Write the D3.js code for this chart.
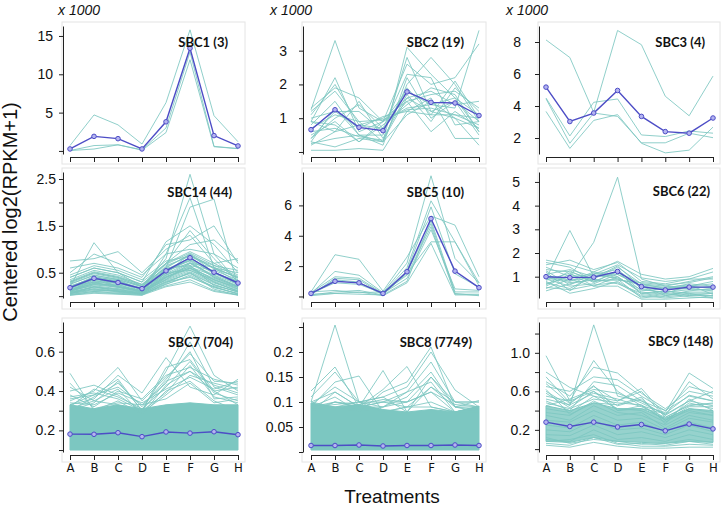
<!DOCTYPE html>
<html><head><meta charset="utf-8">
<script src="https://cdn.jsdelivr.net/npm/d3@7"></script>
<style>body{margin:0;background:#fff}</style>
</head><body><svg id="c" width="722" height="511" xmlns="http://www.w3.org/2000/svg"></svg>
<script>
// ---------------- DATA ----------------
const categories = ["A","B","C","D","E","F","G","H"];

// SBC1 (x1000)
const sbc1Lines = [
  [0.7, 4.7, 3.4, 0.9, 6.3, 15.8, 4.6, 1.2],
  [0.05, 0.7, 0.8, 0.15, 3.0, 12.9, 0.6, 0.3],
  [0.05, 0.25, 0.8, 0.1, 2.4, 11.9, 0.55, 0.3]
];
const sbc1Mean = [0.26, 1.9, 1.6, 0.26, 3.8, 13.4, 2.0, 0.65];

// SBC2 (x1000)
const sbc2Lines = [
  [1.25, 3.3, 1.3, 0.9, 1.6, 1.2, 1.5, 0.9],
  [0.05, 0.05, 0.1, 0.05, 1.2, 1.1, 1.1, 1.0],
  [0.3, 1.3, 0.5, 0.3, 3.1, 2.3, 1.6, 0.6],
  [0.9, 2.2, 0.6, 0.9, 1.8, 1.4, 1.3, 3.6],
  [1.3, 1.9, 1.6, 0.9, 2.6, 2.0, 2.2, 3.2],
  [0.7, 1.1, 0.9, 0.3, 2.0, 2.8, 2.0, 0.9],
  [1.1, 2.0, 0.8, 0.7, 1.5, 0.6, 1.2, 0.7],
  [0.4, 1.2, 0.7, 1.05, 1.2, 1.6, 0.4, 0.4],
  [0.2, 0.6, 1.5, 0.4, 1.7, 0.9, 1.9, 1.2],
  [0.8, 1.5, 0.5, 0.5, 2.8, 1.2, 1.0, 0.7],
  [0.5, 0.9, 0.3, 0.8, 1.4, 1.9, 1.7, 0.6],
  [1.0, 1.2, 1.2, 0.6, 1.9, 1.1, 2.1, 1.0],
  [0.3, 0.15, 0.4, 0.3, 1.1, 1.5, 1.0, 0.2],
  [0.6, 0.7, 0.45, 0.35, 1.6, 1.8, 1.4, 1.5],
  [1.2, 1.8, 0.9, 0.95, 1.25, 1.3, 1.1, 0.8],
  [0.25, 0.4, 0.5, 0.2, 2.2, 1.0, 1.5, 0.5],
  [0.9, 0.6, 0.8, 1.0, 1.5, 1.7, 1.8, 1.3],
  [0.4, 1.0, 1.4, 0.7, 2.3, 2.2, 0.8, 0.9],
  [0.9, 0.8, 0.3, 0.9, 1.3, 1.4, 1.6, 1.1]
];
const sbc2Mean = [0.66, 1.25, 0.73, 0.63, 1.78, 1.47, 1.45, 1.08];

// SBC3 (x1000)
const sbc3Lines = [
  [8.13, 7.03, 3.6, 8.72, 7.83, 4.61, 3.39, 5.87],
  [4.5, 2.13, 4.23, 4.44, 2.19, 2.09, 2.44, 2.3],
  [4.45, 1.67, 3.56, 3.35, 1.7, 1.7, 2.3, 2.02],
  [3.66, 1.35, 3.1, 3.46, 1.67, 1.07, 1.24, 2.68]
];
const sbc3Mean = [5.18, 3.03, 3.56, 4.97, 3.35, 2.4, 2.3, 3.25];

// SBC14
const sbc14Lines = [
  [0.3, 0.5, 0.4, 0.2, 0.8, 2.6, 0.9, 0.3],
  [0.2, 0.3, 0.3, 0.1, 0.9, 2.1, 0.6, 0.4],
  [0.1, 0.4, 0.2, 0.1, 0.6, 1.9, 2.07, 0.2],
  [0.4, 0.6, 0.5, 0.3, 1.16, 1.5, 1.1, 0.5],
  [0.2, 1.14, 0.5, 0.2, 0.7, 1.4, 0.8, 0.3],
  [0.75, 0.8, 0.95, 0.5, 1.0, 1.3, 0.7, 0.8],
  [0.6, 0.7, 0.6, 0.4, 1.1, 1.2, 1.5, 0.7],
  [0.5, 0.9, 0.7, 0.45, 0.9, 1.0, 0.9, 0.6],
  [0.4, 0.6, 0.5, 0.3, 0.7, 1.1, 1.2, 0.75],
  [0.3, 0.5, 0.4, 0.25, 0.6, 0.9, 0.6, 0.5],
  [0.2, 0.4, 0.3, 0.15, 0.5, 0.8, 0.5, 0.3],
  [0.15, 0.3, 0.25, 0.1, 0.45, 0.7, 0.45, 0.25],
  [0.1, 0.35, 0.2, 0.12, 0.55, 0.75, 0.4, 0.2],
  [0.25, 0.45, 0.35, 0.2, 0.6, 0.65, 0.55, 0.35],
  [0.05, 0.2, 0.15, 0.05, 0.4, 0.6, 0.3, 0.1],
  [0.1, 0.25, 0.2, 0.08, 0.5, 0.55, 0.35, 0.15],
  [0.12, 0.3, 0.18, 0.1, 0.35, 0.7, 0.4, 0.2],
  [0.2, 0.35, 0.3, 0.15, 0.65, 0.85, 0.6, 0.3],
  [0.08, 0.15, 0.1, 0.05, 0.3, 0.5, 0.25, 0.08],
  [0.03, 0.1, 0.08, 0.03, 0.25, 0.45, 0.2, 0.05],
  [0.15, 0.4, 0.35, 0.12, 0.5, 0.9, 0.5, 0.25],
  [0.1, 0.28, 0.22, 0.1, 0.42, 0.6, 0.38, 0.18],
  [0.06, 0.12, 0.12, 0.05, 0.3, 0.4, 0.2, 0.04],
  [0.02, 0.08, 0.05, 0.02, 0.28, 0.5, 0.15, 0.02],
  [0.18, 0.32, 0.28, 0.14, 0.48, 0.72, 0.42, 0.22],
  [0.35, 0.55, 0.45, 0.25, 0.7, 0.95, 0.7, 0.45],
  [0.12, 0.22, 0.16, 0.08, 0.38, 0.58, 0.32, 0.14],
  [0.22, 0.38, 0.26, 0.16, 0.52, 0.78, 0.48, 0.28],
  [0.04, 0.1, 0.06, 0.04, 0.22, 0.35, 0.12, 0.03],
  [0.09, 0.18, 0.14, 0.07, 0.34, 0.52, 0.28, 0.12],
  [0.28, 0.48, 0.38, 0.22, 0.62, 0.88, 0.58, 0.4],
  [0.07, 0.2, 0.1, 0.06, 0.44, 0.66, 0.22, 0.1],
  [0.14, 0.26, 0.24, 0.1, 0.46, 0.62, 0.44, 0.2],
  [0.05, 0.14, 0.09, 0.04, 0.26, 0.42, 0.18, 0.06],
  [0.16, 0.36, 0.33, 0.13, 0.56, 0.82, 0.52, 0.26],
  [0.11, 0.24, 0.19, 0.09, 0.4, 0.6, 0.36, 0.16],
  [0.45, 0.65, 0.55, 0.35, 0.75, 0.85, 0.65, 0.55],
  [0.02, 0.06, 0.04, 0.02, 0.2, 0.3, 0.1, 0.02],
  [0.19, 0.42, 0.32, 0.17, 0.58, 0.76, 0.5, 0.32],
  [0.13, 0.27, 0.21, 0.11, 0.41, 0.64, 0.34, 0.19],
  [0.26, 0.44, 0.36, 0.2, 0.55, 0.7, 0.62, 0.38],
  [0.06, 0.16, 0.11, 0.05, 0.32, 0.48, 0.24, 0.09],
  [0.32, 0.52, 0.42, 0.24, 0.68, 0.92, 0.66, 0.42],
  [0.09, 0.2, 0.13, 0.07, 0.36, 0.55, 0.3, 0.11]
];
const sbc14Mean = [0.18, 0.38, 0.29, 0.16, 0.54, 0.82, 0.51, 0.28];

// SBC5
const sbc5Lines = [
  [0.3, 2.75, 2.45, 0.35, 2.6, 5.3, 4.7, 1.3],
  [0.2, 1.65, 1.4, 0.25, 2.2, 7.95, 2.5, 0.9],
  [0.25, 1.3, 1.2, 0.2, 1.9, 6.3, 3.6, 0.9],
  [0.1, 1.2, 1.1, 0.15, 1.5, 3.6, 3.6, 0.7],
  [0.15, 1.1, 0.95, 0.1, 1.7, 5.9, 1.5, 0.6],
  [0.2, 0.9, 0.8, 0.2, 1.2, 4.4, 0.5, 0.4],
  [0.1, 0.3, 0.4, 0.1, 1.0, 5.0, 0.3, 0.3],
  [0.05, 0.2, 0.3, 0.05, 0.9, 3.5, 0.1, 0.1],
  [0.15, 0.2, 0.15, 0.1, 1.6, 4.8, 0.2, 0.05],
  [0.3, 0.4, 0.25, 0.3, 1.4, 4.6, 0.15, 0.15]
];
const sbc5Mean = [0.2, 1.0, 0.9, 0.2, 1.63, 5.13, 1.67, 0.58];

// SBC6
const sbc6Lines = [
  [0.9, 2.95, 1.0, 1.1, 0.6, 0.5, 0.6, 0.5],
  [0.7, 1.0, 2.45, 5.2, 0.9, 0.6, 0.5, 0.4],
  [1.7, 1.5, 1.2, 1.65, 1.1, 0.9, 1.0, 1.35],
  [1.5, 1.7, 1.3, 1.6, 0.8, 0.7, 0.9, 1.2],
  [1.3, 1.2, 0.9, 1.4, 0.7, 0.6, 0.8, 1.0],
  [1.2, 0.4, 1.1, 1.3, 0.5, 0.3, 0.6, 0.8],
  [1.1, 1.3, 1.0, 1.2, 0.4, 0.5, 0.7, 0.6],
  [1.0, 0.8, 1.2, 1.0, 0.3, 0.4, 0.3, 0.3],
  [0.9, 0.6, 0.7, 1.1, 0.6, 0.2, 0.4, 0.5],
  [0.8, 0.3, 0.5, 0.8, 0.2, 0.1, 0.2, 0.2],
  [0.6, 1.1, 0.8, 0.9, 0.1, 0.2, 0.3, 0.1],
  [0.5, 0.9, 0.6, 0.6, 0.05, 0.05, 0.1, 0.15],
  [1.4, 1.0, 1.1, 1.5, 0.95, 0.8, 0.9, 0.9],
  [0.4, 0.7, 0.9, 0.7, 0.3, 0.15, 0.25, 0.2],
  [1.6, 1.4, 0.8, 1.2, 0.7, 0.5, 0.6, 0.7],
  [0.75, 0.5, 1.05, 0.95, 0.45, 0.35, 0.45, 0.45],
  [1.05, 0.85, 0.95, 1.45, 0.55, 0.45, 0.5, 0.6],
  [0.85, 1.15, 0.6, 1.0, 0.35, 0.25, 0.35, 0.35],
  [1.25, 0.65, 1.15, 0.9, 0.65, 0.55, 0.65, 0.25],
  [0.65, 1.25, 0.75, 1.25, 0.25, 0.4, 0.2, 0.3],
  [0.95, 0.75, 0.85, 0.85, 0.75, 0.65, 0.75, 0.95],
  [0.55, 0.45, 0.65, 0.75, 0.15, 0.3, 0.15, 0.1]
];
const sbc6Mean = [1.0, 0.96, 0.98, 1.22, 0.58, 0.44, 0.56, 0.56];

// SBC7: dense envelope + outlying profiles
const sbc7BandLow  = [0.1, 0.1, 0.1, 0.1, 0.1, 0.1, 0.1, 0.1];
const sbc7BandHigh = [0.33, 0.31, 0.33, 0.31, 0.33, 0.34, 0.33, 0.33];
const sbc7Lines = [
  [0.49, 0.3, 0.35, 0.28, 0.4, 0.45, 0.35, 0.3],
  [0.4, 0.43, 0.38, 0.3, 0.45, 0.5, 0.4, 0.42],
  [0.35, 0.4, 0.52, 0.35, 0.47, 0.59, 0.45, 0.44],
  [0.33, 0.36, 0.48, 0.39, 0.57, 0.42, 0.38, 0.46],
  [0.3, 0.34, 0.45, 0.3, 0.5, 0.73, 0.48, 0.4],
  [0.36, 0.38, 0.42, 0.33, 0.44, 0.65, 0.42, 0.38],
  [0.38, 0.32, 0.4, 0.36, 0.48, 0.52, 0.46, 0.43],
  [0.32, 0.41, 0.37, 0.31, 0.42, 0.55, 0.39, 0.35],
  [0.42, 0.35, 0.33, 0.29, 0.38, 0.48, 0.44, 0.41],
  [0.3, 0.37, 0.44, 0.32, 0.46, 0.6, 0.36, 0.37],
  [0.34, 0.33, 0.39, 0.34, 0.41, 0.47, 0.41, 0.45],
  [0.37, 0.39, 0.36, 0.3, 0.39, 0.53, 0.37, 0.34],
  [0.31, 0.35, 0.41, 0.28, 0.43, 0.5, 0.43, 0.39],
  [0.44, 0.31, 0.34, 0.33, 0.36, 0.44, 0.34, 0.36],
  [0.33, 0.38, 0.46, 0.3, 0.52, 0.56, 0.4, 0.33]
];
const sbc7Mean = [0.181, 0.18, 0.188, 0.168, 0.192, 0.186, 0.193, 0.178];

// SBC8: dense envelope + outlying profiles
const sbc8BandLow  = [0.004, 0.004, 0.004, 0.004, 0.004, 0.004, 0.004, 0.004];
const sbc8BandHigh = [0.098, 0.09, 0.095, 0.085, 0.08, 0.085, 0.08, 0.092];
const sbc8Lines = [
  [0.1, 0.254, 0.1, 0.08, 0.09, 0.09, 0.08, 0.09],
  [0.122, 0.17, 0.09, 0.09, 0.1, 0.12, 0.08, 0.09],
  [0.11, 0.16, 0.1, 0.11, 0.08, 0.15, 0.09, 0.08],
  [0.09, 0.14, 0.152, 0.08, 0.09, 0.1, 0.08, 0.09],
  [0.08, 0.12, 0.09, 0.163, 0.08, 0.13, 0.1, 0.09],
  [0.09, 0.1, 0.09, 0.125, 0.171, 0.09, 0.08, 0.08],
  [0.1, 0.09, 0.08, 0.12, 0.14, 0.21, 0.09, 0.09],
  [0.09, 0.09, 0.1, 0.11, 0.13, 0.2, 0.124, 0.09],
  [0.08, 0.1, 0.09, 0.1, 0.12, 0.18, 0.1, 0.1],
  [0.09, 0.095, 0.1, 0.09, 0.11, 0.16, 0.09, 0.103],
  [0.1, 0.12, 0.09, 0.1, 0.1, 0.15, 0.1, 0.1],
  [0.09, 0.11, 0.08, 0.09, 0.12, 0.14, 0.08, 0.09],
  [0.095, 0.13, 0.1, 0.1, 0.09, 0.13, 0.09, 0.085],
  [0.085, 0.1, 0.095, 0.105, 0.1, 0.12, 0.095, 0.09]
];
const sbc8Mean = [0.013, 0.013, 0.014, 0.012, 0.013, 0.013, 0.014, 0.013];

// SBC9: envelope + profiles
const sbc9BandLow  = [0.08, 0.07, 0.12, 0.08, 0.07, 0.06, 0.08, 0.07];
const sbc9BandHigh = [0.45, 0.4, 0.48, 0.42, 0.42, 0.32, 0.42, 0.4];
const sbc9Lines = [
  [0.97, 0.5, 0.6, 0.4, 0.45, 0.3, 0.4, 0.35],
  [0.8, 0.64, 0.55, 0.5, 0.63, 0.35, 0.5, 0.45],
  [0.6, 0.45, 1.29, 0.55, 0.5, 0.4, 0.55, 0.5],
  [0.55, 0.5, 0.92, 0.6, 0.45, 0.38, 0.79, 0.63],
  [0.7, 0.55, 0.85, 0.79, 0.58, 0.42, 0.6, 0.55],
  [0.65, 0.6, 0.75, 0.72, 0.55, 0.4, 0.65, 0.58],
  [0.5, 0.4, 0.7, 0.66, 0.5, 0.35, 0.7, 0.52],
  [0.75, 0.48, 0.65, 0.5, 0.6, 0.33, 0.45, 0.48],
  [0.45, 0.52, 0.62, 0.58, 0.48, 0.36, 0.5, 0.6],
  [0.58, 0.43, 0.6, 0.45, 0.52, 0.3, 0.48, 0.42],
  [0.42, 0.38, 0.55, 0.42, 0.4, 0.28, 0.42, 0.38],
  [0.38, 0.35, 0.5, 0.38, 0.35, 0.25, 0.38, 0.35],
  [0.35, 0.3, 0.45, 0.35, 0.38, 0.22, 0.35, 0.3],
  [0.3, 0.28, 0.4, 0.3, 0.32, 0.2, 0.32, 0.28],
  [0.25, 0.22, 0.35, 0.25, 0.28, 0.18, 0.28, 0.22],
  [0.2, 0.18, 0.3, 0.2, 0.22, 0.15, 0.25, 0.18],
  [0.15, 0.14, 0.25, 0.15, 0.18, 0.12, 0.2, 0.15],
  [0.1, 0.08, 0.2, 0.1, 0.12, 0.08, 0.15, 0.1],
  [0.06, 0.04, 0.12, 0.05, 0.06, 0.04, 0.08, 0.05],
  [0.04, 0.02, 0.07, 0.03, 0.01, 0.01, 0.02, 0.02],
  [0.08, 0.1, 0.15, 0.06, 0.03, 0.03, 0.05, 0.04],
  [0.12, 0.06, 0.1, 0.08, 0.05, 0.06, 0.1, 0.07],
  [0.52, 0.46, 0.58, 0.52, 0.44, 0.33, 0.46, 0.47],
  [0.48, 0.42, 0.52, 0.48, 0.46, 0.3, 0.44, 0.44],
  [0.62, 0.36, 0.48, 0.46, 0.54, 0.26, 0.52, 0.4],
  [0.68, 0.47, 0.66, 0.4, 0.42, 0.37, 0.56, 0.5]
];
const sbc9Mean = [0.28, 0.235, 0.28, 0.23, 0.255, 0.19, 0.26, 0.21];

const titles = ["SBC1 (3)", "SBC2 (19)", "SBC3 (4)", "SBC14 (44)", "SBC5 (10)", "SBC6 (22)", "SBC7 (704)", "SBC8 (7749)", "SBC9 (148)"];
const yDomains = [[-0.4, 16.3], [-0.06, 3.73], [1.0, 9.0], [-0.04, 2.65], [-0.1, 8.2], [0.1, 5.42], [0.09, 0.751], [0, 0.26], [-0.03, 1.32]];
const yTicks = [[0, 5, 10, 15], [0, 1, 2, 3], [2, 4, 6, 8], [0, 0.5, 1, 1.5, 2, 2.5], [0, 2, 4, 6], [1, 2, 3, 4, 5],
  [0.1, 0.2, 0.3, 0.4, 0.5, 0.6, 0.7], [0, 0.05, 0.1, 0.15, 0.2, 0.25], [0, 0.2, 0.4, 0.6, 0.8, 1.0, 1.2]];
const yTickLabels = [["", "5", "10", "15"], ["", "1", "2", "3"], ["2", "4", "6", "8"], ["", "0.5", "", "1.5", "", "2.5"], ["", "2", "4", "6"], ["1", "2", "3", "4", "5"],
  ["", "0.2", "", "0.4", "", "0.6", ""], ["", "0.05", "0.1", "0.15", "0.2", ""], ["", "0.2", "", "0.6", "", "1.0", ""]];
const scaleNotes = ["x 1000", "x 1000", "x 1000"];
const yAxisTitle = "Centered log2(RPKM+1)";
const xAxisTitle = "Treatments";

// ---------------- LAYOUT ----------------
const cols = [{axis: 63, a: 70, h: 238}, {axis: 303, a: 311, h: 479}, {axis: 539, a: 546, h: 713}];
const rows = [{top: 26, bottom: 154, xaxis: 157}, {top: 172, bottom: 298, xaxis: 302}, {top: 322, bottom: 452, xaxis: 455}];
const labelGap = [10, 16, 18, 7, 11, 19, 8, 10, 9];
const titleRight = [228, 464, 705, 232, 464, 710, 233, 472, 713];
const titleBase = [47, 47, 47, 197, 197, 196, 347, 347, 346];
const noteX = [58, 270, 506];

const panels = [
  {lines: sbc1Lines, mean: sbc1Mean},
  {lines: sbc2Lines, mean: sbc2Mean},
  {lines: sbc3Lines, mean: sbc3Mean},
  {lines: sbc14Lines, mean: sbc14Mean},
  {lines: sbc5Lines, mean: sbc5Mean},
  {lines: sbc6Lines, mean: sbc6Mean},
  {lines: sbc7Lines, mean: sbc7Mean, low: sbc7BandLow, high: sbc7BandHigh, bandOpacity: 1},
  {lines: sbc8Lines, mean: sbc8Mean, low: sbc8BandLow, high: sbc8BandHigh, bandOpacity: 1},
  {lines: sbc9Lines, mean: sbc9Mean, low: sbc9BandLow, high: sbc9BandHigh, bandOpacity: 0.8}
];

const TEAL = "#7cc7c1";
const BLUE = "#4d4dc6";
const svg = d3.select("#c");
svg.append("rect").attr("width", 722).attr("height", 511).attr("fill", "#fff");

panels.forEach((p, i) => {
  const c = cols[i % 3], r = rows[Math.floor(i / 3)];
  const x = d3.scalePoint().domain(categories).range([c.a, c.h]);
  const y = d3.scaleLinear().domain(yDomains[i]).range([r.bottom, r.top]);
  const g = svg.append("g");

  // faint panel frame
  g.append("rect")
    .attr("x", c.axis - 1).attr("y", r.top - 4)
    .attr("width", c.h + 7 - (c.axis - 1)).attr("height", r.xaxis + 7 - (r.top - 4))
    .attr("fill", "none").attr("stroke", "#e4e4e4").attr("stroke-width", 1);

  const line = d3.line().x((d, k) => x(categories[k])).y(d => y(d));

  if (p.low) {
    const area = d3.area()
      .x((d, k) => x(categories[k]))
      .y0((d, k) => y(p.low[k]))
      .y1(d => y(d));
    g.append("path").datum(p.high).attr("d", area)
      .attr("fill", TEAL).attr("fill-opacity", p.bandOpacity).attr("stroke", TEAL).attr("stroke-width", 1);
  }

  g.append("g").selectAll("path").data(p.lines).join("path")
    .attr("d", line).attr("fill", "none")
    .attr("stroke", TEAL).attr("stroke-width", 1).attr("stroke-opacity", 0.85);

  g.append("path").datum(p.mean).attr("d", line)
    .attr("fill", "none").attr("stroke", BLUE).attr("stroke-width", 1.4);
  g.append("g").selectAll("circle").data(p.mean).join("circle")
    .attr("cx", (d, k) => x(categories[k])).attr("cy", d => y(d)).attr("r", 2.3)
    .attr("fill", "#b4b4f0").attr("stroke", BLUE).attr("stroke-width", 1);

  // y axis
  const labs = yTickLabels[i];
  const yAx = d3.axisLeft(y).tickValues(yTicks[i]).tickSize(4).tickSizeOuter(0)
    .tickPadding(labelGap[i] - 4)
    .tickFormat((d, k) => labs[k]);
  const ga = g.append("g").attr("transform", `translate(${c.axis},0)`).call(yAx);
  ga.selectAll("text").attr("font-family", "Liberation Sans, Arial, sans-serif").attr("font-size", 14).attr("fill", "#111");
  ga.selectAll("line,path").attr("stroke", "#222");

  // x axis
  const xAx = d3.axisBottom(x).tickSize(5).tickSizeOuter(0).tickPadding(3)
    .tickFormat(i >= 6 ? (d => d) : (() => ""));
  const gx = g.append("g").attr("transform", `translate(0,${r.xaxis})`).call(xAx);
  gx.selectAll("line,path").attr("stroke", "#222");
  gx.selectAll("text").attr("font-family", "Liberation Sans Narrow, DejaVu Sans Condensed, sans-serif")
    .attr("font-size", 13).attr("fill", "#111");

  // title
  g.append("text").attr("x", titleRight[i]).attr("y", titleBase[i])
    .attr("text-anchor", "end").attr("font-family", "Lato, Open Sans, sans-serif")
    .attr("font-weight", 700).attr("font-size", 13).attr("fill", "#111").text(titles[i]);
});

// scale notes (x 1000) over top row
scaleNotes.forEach((t, k) => {
  svg.append("text").attr("x", noteX[k]).attr("y", 15)
    .attr("font-family", "Liberation Sans, Arial, sans-serif").attr("font-style", "italic")
    .attr("font-size", 14).attr("fill", "#111").text(t);
});

svg.append("text").attr("transform", "translate(17,212) rotate(-90)")
  .attr("text-anchor", "middle").attr("font-family", "Liberation Sans, Arial, sans-serif")
  .attr("font-size", 20).attr("fill", "#111").text(yAxisTitle);

svg.append("text").attr("x", 392).attr("y", 503)
  .attr("text-anchor", "middle").attr("font-family", "Liberation Sans, Arial, sans-serif")
  .attr("font-size", 19).attr("fill", "#111").text(xAxisTitle);
</script>
</body></html>
